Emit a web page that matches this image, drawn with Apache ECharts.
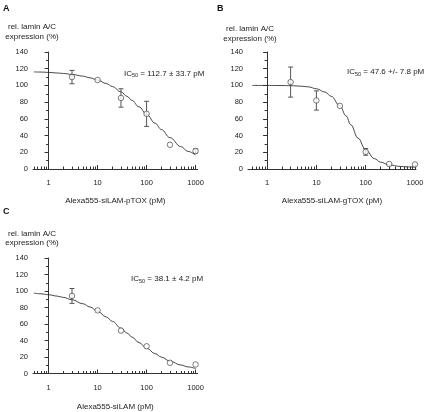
<!DOCTYPE html>
<html><head><meta charset="utf-8">
<script src="https://cdn.jsdelivr.net/npm/echarts@6/dist/echarts.min.js"></script>
<style>html,body{margin:0;padding:0;background:#fff}#c{width:430px;height:412px}</style>
</head><body><div id="c"></div>
<script>
// ---- data ----
const conc = [3, 10, 30, 100, 300, 1000];           // pM
const meanA = [110, 106.5, 85, 66, 29, 21.5];
const errA  = [8, 0, 11, 15, 0, 2.5];
const meanB = [104, 82, 75.5, 20.5, 6, 5.5];
const errB  = [18, 11.5, 0, 4, 0, 0];
const meanC = [94, 76.5, 52, 33, 13, 11];
const errC  = [9, 0, 0, 0, 0, 0];
// fitted curves as drawn in the figure
const curveX = [0.5, 0.7, 1, 1.5, 2, 3, 5, 7, 10, 15, 20, 30, 40, 50, 70, 100, 150, 200, 300, 500, 700, 1000];
const curveA = [116.2, 116.0, 115.6, 114.9, 114.3, 113.2, 111.1, 109.1, 106.4, 102.3, 98.7, 92.3, 86.9, 82.2, 74.4, 65.4, 54.7, 47.3, 37.5, 26.8, 21.1, 16.5];
const curveB = [100, 100, 100, 99.9, 99.9, 99.7, 99.1, 98.2, 96.0, 92.0, 87.0, 75.5, 63.6, 52.9, 36.9, 22.9, 12.5, 8.2, 4.9, 3.1, 2.5, 2.3];
const curveC = [97.4, 96.6, 95.5, 93.8, 92.2, 89.4, 84.6, 80.6, 75.4, 68.6, 63.2, 55.0, 48.9, 44.3, 37.5, 30.7, 24.0, 19.9, 15.0, 10.3, 8.0, 6.0];
const majorTicks = [1, 10, 100, 1000];
const tickLabels = ['1', '10', '100', '1000'];
const minorTicks = [0.5,0.6,0.7,0.8,0.9, 2,3,4,5,6,7,8,9, 20,30,40,50,60,70,80,90, 200,300,400,500,600,700,800,900];
const xTitles = ['Alexa555-siLAM-pTOX (pM)', 'Alexa555-siLAM-gTOX (pM)', 'Alexa555-siLAM (pM)'];
const icTexts = ['= 112.7 \u00b1 33.7 pM', '= 47.6 +/- 7.8 pM', '= 38.1 \u00b1 4.2 pM'];
const panelLetters = ['A', 'B', 'C'];
const yName1 = 'rel. lamin A/C';
const yName2 = 'expression (%)';

const FONT = '"Liberation Sans", Arial, Helvetica, sans-serif';
const L = Math.log10;

const panels = [
  {grid: {left: 33, top: 52, width: 164.6, height: 117}, min: L(0.48), max: L(1100), mean: meanA, err: errA, curve: curveA, nameGap: 28,
   letter: [3, 9], yl: [32, 27, 37], ic: [124, 73.5]},
  {grid: {left: 248, top: 52, width: 168, height: 117}, min: L(0.41), max: L(1050), mean: meanB, err: errB, curve: curveB, nameGap: 28,
   letter: [217, 9], yl: [250, 28.5, 38.5], ic: [347, 72]},
  {grid: {left: 33, top: 258, width: 164.6, height: 117}, min: L(0.48), max: L(1100), mean: meanC, err: errC, curve: curveC, nameGap: 29.5,
   letter: [3, 212], yl: [32, 233.5, 243], ic: [131, 279]}
];

const grid = [], xAxis = [], yAxis = [], series = [], graphic = [];
panels.forEach((p, i) => {
  grid.push(p.grid);
  xAxis.push({
    type: 'value', gridIndex: i, min: p.min, max: p.max, position: 'bottom',
    name: xTitles[i], nameLocation: 'middle', nameGap: p.nameGap,
    nameTextStyle: {fontFamily: FONT, fontSize: 8, color: '#222'},
    axisLine: {show: true, lineStyle: {color: '#333', width: 1}},
    axisTick: {show: true, inside: true, length: 4, lineStyle: {color: '#333', width: 1}, customValues: majorTicks.map(L)},
    axisLabel: {show: true, margin: 10, fontFamily: FONT, fontSize: 7.5, color: '#222',
      customValues: majorTicks.map(L), formatter: v => tickLabels[Math.round(v)]},
    splitLine: {show: false}
  });
  xAxis.push({
    type: 'value', gridIndex: i, min: p.min, max: p.max, position: 'bottom',
    axisLine: {show: false},
    axisTick: {show: true, inside: true, length: 2.5, lineStyle: {color: '#333', width: 1}, customValues: minorTicks.map(L)},
    axisLabel: {show: false, customValues: []},
    splitLine: {show: false}
  });
  yAxis.push({
    type: 'value', gridIndex: i, min: 0, max: 140, interval: 20,
    axisLine: {show: true, lineStyle: {color: '#333', width: 1}},
    axisTick: {show: true, length: 4, lineStyle: {color: '#333', width: 1}},
    minorTick: {show: true, splitNumber: 2, length: 2.5, lineStyle: {color: '#333', width: 1}},
    axisLabel: {margin: 5, fontFamily: FONT, fontSize: 7.5, color: '#222'},
    splitLine: {show: false}
  });
  series.push({
    type: 'line', xAxisIndex: 2 * i, yAxisIndex: i, smooth: 0.4, smoothMonotone: 'x', showSymbol: false, silent: true,
    lineStyle: {color: '#333', width: 0.9}, z: 2,
    data: curveX.map((x, k) => [L(x), p.curve[k]])
  });
  const eb = [];
  conc.forEach((c, k) => { if (p.err[k] > 0) eb.push([L(c), p.mean[k] - p.err[k], p.mean[k] + p.err[k]]); });
  series.push({
    type: 'custom', xAxisIndex: 2 * i, yAxisIndex: i, silent: true, z: 3,
    renderItem: (params, api) => {
      const x = api.value(0);
      const a = api.coord([x, api.value(2)]), b = api.coord([x, api.value(1)]);
      const w = 2.5, st = {stroke: '#555', lineWidth: 1};
      return {type: 'group', children: [
        {type: 'line', shape: {x1: a[0], y1: a[1], x2: b[0], y2: b[1]}, style: st},
        {type: 'line', shape: {x1: a[0] - w, y1: a[1], x2: a[0] + w, y2: a[1]}, style: st},
        {type: 'line', shape: {x1: b[0] - w, y1: b[1], x2: b[0] + w, y2: b[1]}, style: st}
      ]};
    },
    data: eb
  });
  series.push({
    type: 'scatter', xAxisIndex: 2 * i, yAxisIndex: i, symbol: 'circle', symbolSize: 5.5, silent: true, z: 4,
    itemStyle: {color: '#fff', borderColor: '#333', borderWidth: 0.8},
    data: conc.map((c, k) => [L(c), p.mean[k]])
  });
  graphic.push({type: 'text', x: p.letter[0], y: p.letter[1],
    style: {text: panelLetters[i], font: 'bold 9px ' + FONT, fill: '#111', align: 'left', verticalAlign: 'middle'}});
  graphic.push({type: 'text', x: p.yl[0], y: p.yl[1],
    style: {text: yName1, font: '8px ' + FONT, fill: '#222', align: 'center', verticalAlign: 'middle'}});
  graphic.push({type: 'text', x: p.yl[0], y: p.yl[2],
    style: {text: yName2, font: '8px ' + FONT, fill: '#222', align: 'center', verticalAlign: 'middle'}});
  graphic.push({type: 'text', x: p.ic[0], y: p.ic[1],
    style: {text: '{n|IC}{s|50}{n| ' + icTexts[i] + '}', align: 'left', verticalAlign: 'middle', fill: '#222',
      rich: {n: {fontSize: 8, fontFamily: FONT, lineHeight: 10, fill: '#222'},
             s: {fontSize: 5.5, fontFamily: FONT, lineHeight: 6, verticalAlign: 'bottom', fill: '#222'}}}});
});

const chart = echarts.init(document.getElementById('c'), null, {renderer: 'canvas'});
chart.setOption({animation: false, backgroundColor: '#fff', grid, xAxis, yAxis, series, graphic});
</script>
</body></html>
